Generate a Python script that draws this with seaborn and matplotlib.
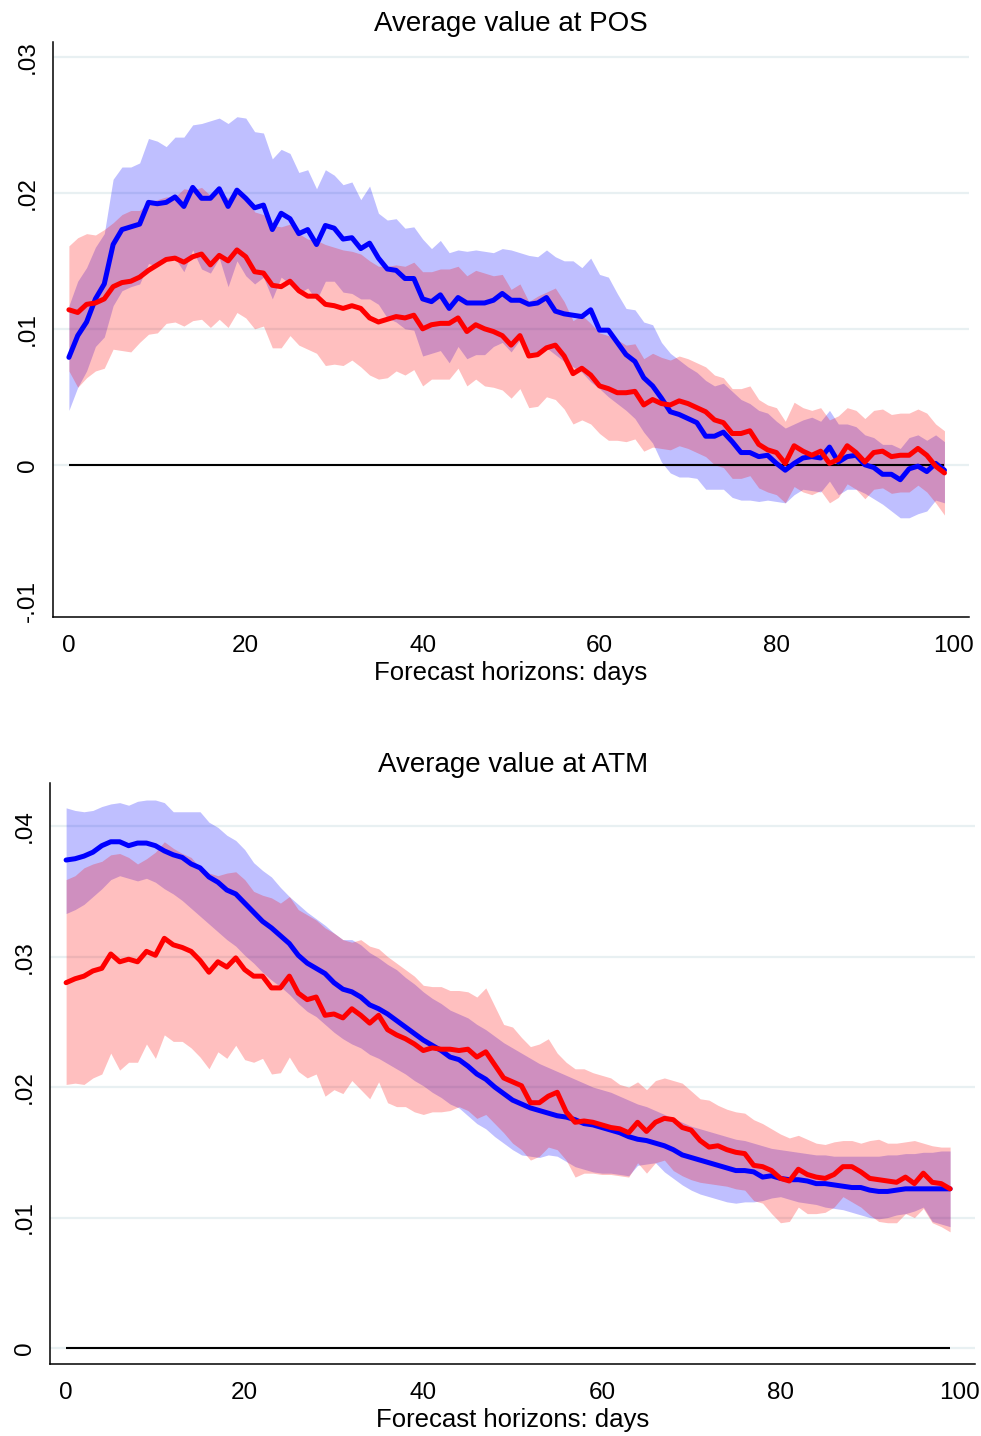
import matplotlib
matplotlib.use("Agg")
import matplotlib.pyplot as plt
import seaborn as sns
import pandas as pd

# Forecast horizons (days)
HORIZON = list(range(100))

# ---- Panel 1: average value at POS ----
POS_BLUE_MEAN = [0.0079,0.0095,0.0105,0.0122,0.0133,0.0162,0.0173,0.0175,0.0177,0.0193,
 0.0192,0.0193,0.0197,0.0190,0.0204,0.0196,0.0196,0.0203,0.0190,0.0202,
 0.0196,0.0189,0.0191,0.0173,0.0185,0.0181,0.0170,0.0173,0.0162,0.0176,
 0.0174,0.0166,0.0167,0.0159,0.0163,0.0152,0.0144,0.0143,0.0137,0.0137,
 0.0122,0.0120,0.0125,0.0115,0.0123,0.0119,0.0119,0.0119,0.0121,0.0126,
 0.0121,0.0121,0.0118,0.0119,0.0123,0.0113,0.0111,0.0110,0.0109,0.0114,
 0.0099,0.0099,0.0090,0.0081,0.0076,0.0064,0.0058,0.0049,0.0039,0.0037,
 0.0034,0.0031,0.0021,0.0021,0.0024,0.0017,0.0009,0.0009,0.0006,0.0007,
 0.0001,-0.0004,0.0001,0.0005,0.0006,0.0005,0.0013,0.0002,0.0006,0.0007,
 0.0000,-0.0002,-0.0007,-0.0007,-0.0011,-0.0003,-0.0001,-0.0005,0.0001,-0.0004]
POS_BLUE_HI = [0.0117,0.0135,0.0145,0.0160,0.0170,0.0210,0.0219,0.0219,0.0222,0.0240,
 0.0238,0.0234,0.0241,0.0241,0.0250,0.0251,0.0253,0.0255,0.0251,0.0256,
 0.0255,0.0245,0.0244,0.0225,0.0232,0.0229,0.0215,0.0217,0.0203,0.0217,
 0.0213,0.0206,0.0208,0.0195,0.0205,0.0185,0.0180,0.0181,0.0174,0.0175,
 0.0166,0.0159,0.0165,0.0156,0.0158,0.0157,0.0158,0.0157,0.0156,0.0159,
 0.0158,0.0156,0.0154,0.0153,0.0158,0.0153,0.0150,0.0150,0.0145,0.0152,
 0.0140,0.0138,0.0126,0.0115,0.0114,0.0105,0.0103,0.0090,0.0082,0.0077,
 0.0072,0.0068,0.0062,0.0058,0.0060,0.0054,0.0048,0.0045,0.0040,0.0038,
 0.0032,0.0027,0.0030,0.0033,0.0035,0.0032,0.0040,0.0030,0.0030,0.0028,
 0.0022,0.0020,0.0015,0.0015,0.0012,0.0020,0.0022,0.0018,0.0022,0.0017]
POS_BLUE_LO = [0.0040,0.0057,0.0069,0.0087,0.0094,0.0117,0.0128,0.0131,0.0133,0.0148,
 0.0146,0.0150,0.0152,0.0142,0.0158,0.0144,0.0141,0.0152,0.0131,0.0150,
 0.0139,0.0133,0.0138,0.0122,0.0138,0.0133,0.0126,0.0130,0.0121,0.0135,
 0.0135,0.0127,0.0126,0.0122,0.0122,0.0118,0.0108,0.0105,0.0100,0.0099,
 0.0080,0.0082,0.0084,0.0075,0.0087,0.0078,0.0081,0.0081,0.0087,0.0090,
 0.0083,0.0092,0.0082,0.0082,0.0086,0.0081,0.0076,0.0072,0.0068,0.0061,
 0.0056,0.0050,0.0045,0.0040,0.0034,0.0024,0.0016,0.0002,-0.0006,-0.0009,
 -0.0009,-0.0010,-0.0018,-0.0018,-0.0018,-0.0024,-0.0026,-0.0026,-0.0027,-0.0026,
 -0.0027,-0.0028,-0.0022,-0.0018,-0.0019,-0.0020,-0.0012,-0.0022,-0.0018,-0.0018,
 -0.0021,-0.0025,-0.0029,-0.0034,-0.0039,-0.0039,-0.0036,-0.0034,-0.0026,-0.0028]
POS_RED_MEAN = [0.0114,0.0112,0.0118,0.0119,0.0122,0.0131,0.0134,0.0135,0.0138,0.0143,
 0.0147,0.0151,0.0152,0.0149,0.0153,0.0155,0.0147,0.0154,0.0150,0.0158,
 0.0153,0.0142,0.0141,0.0132,0.0131,0.0135,0.0128,0.0124,0.0124,0.0118,
 0.0117,0.0115,0.0117,0.0115,0.0108,0.0105,0.0107,0.0109,0.0108,0.0110,
 0.0100,0.0103,0.0104,0.0104,0.0108,0.0098,0.0103,0.0100,0.0098,0.0095,
 0.0088,0.0095,0.0080,0.0081,0.0086,0.0088,0.0080,0.0067,0.0071,0.0066,
 0.0058,0.0056,0.0053,0.0053,0.0054,0.0044,0.0048,0.0045,0.0044,0.0047,
 0.0045,0.0042,0.0039,0.0033,0.0031,0.0023,0.0023,0.0025,0.0015,0.0011,
 0.0009,0.0001,0.0014,0.0010,0.0007,0.0010,0.0001,0.0004,0.0014,0.0009,
 0.0002,0.0009,0.0010,0.0006,0.0007,0.0007,0.0012,0.0007,-0.0001,-0.0006]
POS_RED_HI = [0.0161,0.0167,0.0170,0.0169,0.0173,0.0178,0.0184,0.0187,0.0187,0.0193,
 0.0195,0.0197,0.0197,0.0203,0.0202,0.0204,0.0198,0.0201,0.0196,0.0204,
 0.0198,0.0186,0.0184,0.0176,0.0175,0.0177,0.0170,0.0166,0.0165,0.0162,
 0.0160,0.0158,0.0157,0.0155,0.0150,0.0146,0.0146,0.0147,0.0146,0.0149,
 0.0142,0.0142,0.0144,0.0144,0.0146,0.0139,0.0143,0.0141,0.0139,0.0140,
 0.0129,0.0133,0.0120,0.0124,0.0127,0.0130,0.0120,0.0106,0.0110,0.0104,
 0.0097,0.0095,0.0092,0.0088,0.0089,0.0078,0.0082,0.0079,0.0077,0.0080,
 0.0078,0.0075,0.0072,0.0066,0.0064,0.0056,0.0056,0.0058,0.0048,0.0044,
 0.0042,0.0032,0.0046,0.0042,0.0040,0.0042,0.0033,0.0036,0.0042,0.0040,
 0.0034,0.0040,0.0041,0.0037,0.0038,0.0038,0.0041,0.0038,0.0030,0.0025]
POS_RED_LO = [0.0069,0.0057,0.0064,0.0069,0.0071,0.0085,0.0084,0.0083,0.0090,0.0096,
 0.0097,0.0104,0.0105,0.0102,0.0106,0.0107,0.0101,0.0107,0.0101,0.0112,
 0.0108,0.0100,0.0102,0.0086,0.0086,0.0095,0.0088,0.0085,0.0082,0.0073,
 0.0074,0.0073,0.0077,0.0072,0.0066,0.0063,0.0064,0.0069,0.0066,0.0070,
 0.0058,0.0063,0.0063,0.0063,0.0071,0.0058,0.0063,0.0058,0.0057,0.0055,
 0.0049,0.0056,0.0042,0.0043,0.0050,0.0048,0.0041,0.0030,0.0033,0.0030,
 0.0023,0.0018,0.0018,0.0017,0.0019,0.0010,0.0013,0.0012,0.0011,0.0014,
 0.0012,0.0009,0.0006,0.0000,-0.0002,-0.0010,-0.0010,-0.0008,-0.0017,-0.0020,
 -0.0022,-0.0028,-0.0016,-0.0020,-0.0022,-0.0019,-0.0028,-0.0024,-0.0014,-0.0018,
 -0.0025,-0.0018,-0.0017,-0.0021,-0.0020,-0.0020,-0.0015,-0.0020,-0.0028,-0.0037]

# ---- Panel 2: average value at ATM ----
ATM_BLUE_MEAN = [0.0374,0.0375,0.0377,0.0380,0.0385,0.0388,0.0388,0.0385,0.0387,0.0387,
 0.0385,0.0381,0.0378,0.0376,0.0371,0.0368,0.0361,0.0357,0.0351,0.0348,
 0.0341,0.0334,0.0327,0.0322,0.0316,0.0310,0.0301,0.0295,0.0291,0.0287,
 0.0280,0.0275,0.0273,0.0269,0.0263,0.0260,0.0256,0.0251,0.0246,0.0241,
 0.0236,0.0232,0.0228,0.0223,0.0221,0.0216,0.0210,0.0206,0.0200,0.0195,
 0.0190,0.0187,0.0184,0.0182,0.0180,0.0178,0.0177,0.0175,0.0172,0.0171,
 0.0169,0.0167,0.0165,0.0162,0.0160,0.0159,0.0157,0.0155,0.0152,0.0148,
 0.0146,0.0144,0.0142,0.0140,0.0138,0.0136,0.0136,0.0135,0.0131,0.0132,
 0.0130,0.0129,0.0129,0.0128,0.0126,0.0126,0.0125,0.0124,0.0123,0.0123,
 0.0121,0.0120,0.0120,0.0121,0.0122,0.0122,0.0122,0.0122,0.0122,0.0122]
ATM_BLUE_HI = [0.0414,0.0412,0.0411,0.0412,0.0415,0.0417,0.0418,0.0416,0.0419,0.0420,
 0.0420,0.0418,0.0411,0.0411,0.0411,0.0411,0.0403,0.0399,0.0393,0.0389,
 0.0382,0.0372,0.0366,0.0361,0.0353,0.0346,0.0340,0.0334,0.0329,0.0324,
 0.0318,0.0313,0.0313,0.0309,0.0303,0.0299,0.0294,0.0290,0.0284,0.0279,
 0.0273,0.0268,0.0264,0.0259,0.0256,0.0253,0.0248,0.0244,0.0239,0.0234,
 0.0230,0.0226,0.0222,0.0218,0.0215,0.0212,0.0209,0.0206,0.0203,0.0200,
 0.0198,0.0196,0.0193,0.0190,0.0187,0.0185,0.0182,0.0179,0.0176,0.0173,
 0.0170,0.0168,0.0166,0.0164,0.0162,0.0160,0.0159,0.0157,0.0155,0.0153,
 0.0152,0.0151,0.0150,0.0149,0.0148,0.0148,0.0147,0.0147,0.0147,0.0147,
 0.0147,0.0147,0.0148,0.0148,0.0149,0.0149,0.0150,0.0150,0.0151,0.0151]
ATM_BLUE_LO = [0.0333,0.0336,0.0340,0.0346,0.0352,0.0359,0.0362,0.0360,0.0358,0.0360,
 0.0357,0.0352,0.0348,0.0343,0.0337,0.0331,0.0325,0.0319,0.0313,0.0308,
 0.0301,0.0295,0.0288,0.0282,0.0277,0.0271,0.0264,0.0258,0.0254,0.0248,
 0.0242,0.0237,0.0233,0.0230,0.0225,0.0222,0.0218,0.0214,0.0210,0.0205,
 0.0201,0.0196,0.0192,0.0187,0.0184,0.0178,0.0172,0.0168,0.0162,0.0157,
 0.0152,0.0148,0.0147,0.0146,0.0148,0.0147,0.0143,0.0139,0.0137,0.0135,
 0.0134,0.0134,0.0133,0.0132,0.0140,0.0141,0.0142,0.0135,0.0130,0.0125,
 0.0121,0.0118,0.0116,0.0114,0.0112,0.0111,0.0112,0.0112,0.0113,0.0115,
 0.0116,0.0114,0.0112,0.0111,0.0110,0.0108,0.0107,0.0106,0.0104,0.0102,
 0.0100,0.0099,0.0100,0.0102,0.0103,0.0105,0.0108,0.0097,0.0095,0.0093]
ATM_RED_MEAN = [0.0280,0.0283,0.0285,0.0289,0.0291,0.0302,0.0296,0.0298,0.0296,0.0304,
 0.0301,0.0314,0.0309,0.0307,0.0304,0.0297,0.0288,0.0296,0.0292,0.0299,
 0.0290,0.0285,0.0285,0.0276,0.0276,0.0285,0.0272,0.0267,0.0269,0.0255,
 0.0256,0.0253,0.0260,0.0255,0.0249,0.0255,0.0244,0.0240,0.0237,0.0233,
 0.0228,0.0230,0.0229,0.0229,0.0228,0.0229,0.0223,0.0227,0.0217,0.0207,
 0.0204,0.0201,0.0188,0.0188,0.0193,0.0196,0.0181,0.0173,0.0174,0.0173,
 0.0171,0.0169,0.0168,0.0165,0.0173,0.0166,0.0173,0.0176,0.0175,0.0169,
 0.0167,0.0159,0.0154,0.0155,0.0152,0.0150,0.0149,0.0140,0.0139,0.0136,
 0.0130,0.0128,0.0137,0.0133,0.0131,0.0130,0.0133,0.0139,0.0139,0.0135,
 0.0130,0.0129,0.0128,0.0127,0.0131,0.0126,0.0134,0.0127,0.0126,0.0122]
ATM_RED_HI = [0.0359,0.0362,0.0368,0.0371,0.0373,0.0378,0.0379,0.0376,0.0371,0.0375,
 0.0380,0.0388,0.0383,0.0379,0.0376,0.0368,0.0364,0.0362,0.0364,0.0365,
 0.0359,0.0350,0.0347,0.0345,0.0341,0.0346,0.0336,0.0332,0.0328,0.0322,
 0.0318,0.0313,0.0311,0.0313,0.0308,0.0306,0.0300,0.0295,0.0290,0.0285,
 0.0278,0.0277,0.0277,0.0274,0.0274,0.0273,0.0269,0.0276,0.0262,0.0248,
 0.0246,0.0238,0.0231,0.0233,0.0237,0.0226,0.0219,0.0214,0.0214,0.0211,
 0.0209,0.0207,0.0202,0.0200,0.0204,0.0198,0.0205,0.0207,0.0205,0.0203,
 0.0197,0.0191,0.0190,0.0186,0.0183,0.0181,0.0180,0.0175,0.0172,0.0168,
 0.0164,0.0161,0.0163,0.0160,0.0157,0.0156,0.0158,0.0159,0.0159,0.0157,
 0.0159,0.0160,0.0157,0.0157,0.0158,0.0159,0.0157,0.0155,0.0154,0.0154]
ATM_RED_LO = [0.0202,0.0203,0.0202,0.0207,0.0210,0.0226,0.0213,0.0219,0.0219,0.0233,
 0.0222,0.0240,0.0235,0.0235,0.0230,0.0223,0.0214,0.0227,0.0222,0.0232,
 0.0221,0.0219,0.0222,0.0210,0.0211,0.0223,0.0212,0.0207,0.0210,0.0193,
 0.0198,0.0195,0.0205,0.0198,0.0191,0.0204,0.0188,0.0185,0.0185,0.0181,
 0.0179,0.0181,0.0181,0.0182,0.0185,0.0182,0.0176,0.0179,0.0172,0.0165,
 0.0157,0.0152,0.0144,0.0147,0.0154,0.0152,0.0144,0.0131,0.0134,0.0134,
 0.0133,0.0133,0.0132,0.0131,0.0142,0.0134,0.0142,0.0144,0.0136,0.0132,
 0.0129,0.0127,0.0126,0.0125,0.0124,0.0122,0.0121,0.0113,0.0111,0.0103,
 0.0096,0.0097,0.0108,0.0103,0.0103,0.0104,0.0108,0.0116,0.0112,0.0108,
 0.0102,0.0097,0.0096,0.0096,0.0103,0.0100,0.0107,0.0096,0.0093,0.0089]

POS_YTICKS = [-0.01, 0.0, 0.01, 0.02, 0.03]
POS_YLABELS = ["-.01", "0", ".01", ".02", ".03"]
ATM_YTICKS = [0.0, 0.01, 0.02, 0.03, 0.04]
ATM_YLABELS = ["0", ".01", ".02", ".03", ".04"]
XTICKS = [0, 20, 40, 60, 80, 100]

BLUE = "#0000ff"
RED = "#ff0000"
GRID = "#e8f0f2"

sns.set_style("white")
plt.rcParams["font.family"] = ["Liberation Sans", "DejaVu Sans"]
plt.rcParams["text.color"] = "black"
plt.rcParams["axes.labelcolor"] = "black"

fig = plt.figure(figsize=(9.81, 14.36), dpi=100)
ax_pos = fig.add_axes([0.054, 0.5703, 0.934, 0.4005])
ax_atm = fig.add_axes([0.051, 0.0501, 0.943, 0.4046])


def draw_panel(ax, title, blue_mean, blue_lo, blue_hi, red_mean, red_lo, red_hi,
               yticks, ylabels, ylim, hide_low_grid):
    df = pd.DataFrame({
        "h": HORIZON,
        "blue": blue_mean, "blue_lo": blue_lo, "blue_hi": blue_hi,
        "red": red_mean, "red_lo": red_lo, "red_hi": red_hi,
    })
    ax.set_xlim(-1.8, 101.8)
    ax.set_ylim(*ylim)
    for y in yticks:
        if hide_low_grid and y == yticks[0]:
            continue
        ax.axhline(y, color=GRID, lw=1.6, zorder=0)
    ax.fill_between(df["h"], df["blue_lo"], df["blue_hi"], color=BLUE,
                    alpha=0.25, lw=0, zorder=1)
    ax.fill_between(df["h"], df["red_lo"], df["red_hi"], color=RED,
                    alpha=0.25, lw=0, zorder=2)
    ax.hlines(0, df["h"].iloc[0], df["h"].iloc[-1], color="black", lw=1.5, zorder=3)
    sns.lineplot(data=df, x="h", y="blue", ax=ax, color=BLUE, lw=3.6, zorder=4)
    sns.lineplot(data=df, x="h", y="red", ax=ax, color=RED, lw=3.6, zorder=5)

    ax.set_xticks(XTICKS)
    ax.set_xticklabels([str(t) for t in XTICKS])
    ax.set_yticks(yticks)
    ax.set_yticklabels(ylabels, rotation=90, va="center")
    ax.tick_params(axis="both", direction="out", length=7, width=1.1,
                   labelsize=17.5, color="black", labelcolor="black")
    ax.tick_params(axis="y", pad=3)
    ax.tick_params(axis="x", pad=6)
    ax.set_xlabel("Forecast horizons: days", fontsize=18.5, labelpad=3,
                  color="black")
    ax.set_ylabel("")
    ax.set_title(title, fontsize=20, pad=8, color="black")
    for side in ("top", "right"):
        ax.spines[side].set_visible(False)
    for side in ("left", "bottom"):
        ax.spines[side].set_color("black")
        ax.spines[side].set_linewidth(1.1)


draw_panel(ax_pos, "Average value at POS",
           POS_BLUE_MEAN, POS_BLUE_LO, POS_BLUE_HI,
           POS_RED_MEAN, POS_RED_LO, POS_RED_HI,
           POS_YTICKS, POS_YLABELS, (-0.0112, 0.0311), True)
draw_panel(ax_atm, "Average value at ATM",
           ATM_BLUE_MEAN, ATM_BLUE_LO, ATM_BLUE_HI,
           ATM_RED_MEAN, ATM_RED_LO, ATM_RED_HI,
           ATM_YTICKS, ATM_YLABELS, (-0.00123, 0.0433), False)

fig.savefig("out.png", dpi=100, facecolor="white")
